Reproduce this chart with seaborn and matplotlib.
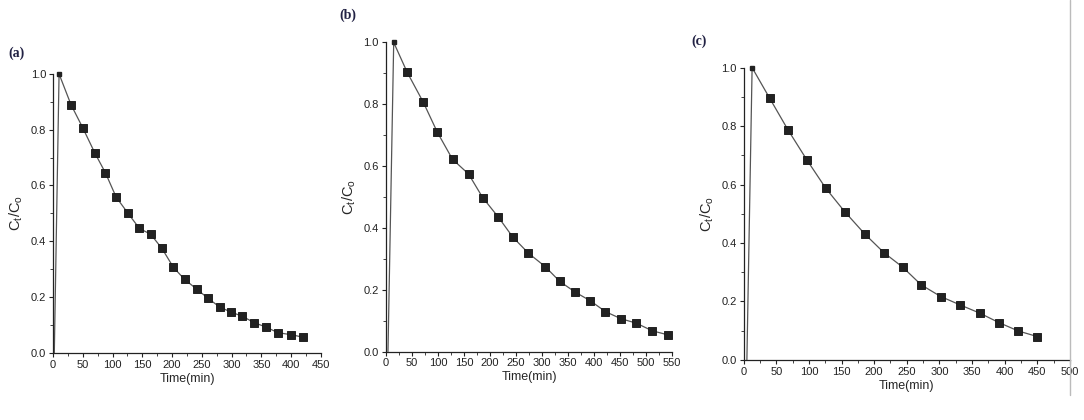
import numpy as np
import pandas as pd
import seaborn as sns
import matplotlib.pyplot as plt
from matplotlib.ticker import MultipleLocator
from matplotlib.lines import Line2D

# values (first point = start of the run at C/Co = 0)
time_a = [2, 10, 30, 50, 70, 88, 106, 126, 145, 164, 183, 202, 221, 241, 260, 280, 299, 318, 338, 357, 378, 400, 420]
ratio_a = [0.0, 1.0, 0.89, 0.806, 0.717, 0.645, 0.558, 0.50, 0.446, 0.425, 0.374, 0.307, 0.263, 0.229, 0.196,
           0.164, 0.146, 0.131, 0.108, 0.093, 0.072, 0.065, 0.056]

time_b = [4, 15, 41, 72, 99, 128, 159, 186, 216, 244, 274, 306, 334, 364, 393, 422, 452, 481, 512, 542]
ratio_b = [0.0, 1.0, 0.903, 0.806, 0.709, 0.622, 0.574, 0.498, 0.435, 0.37, 0.318, 0.275, 0.227, 0.192,
           0.164, 0.129, 0.106, 0.092, 0.067, 0.054]

time_c = [5, 13, 40, 68, 97, 126, 155, 186, 215, 244, 272, 302, 332, 362, 391, 421, 450]
ratio_c = [0.0, 1.0, 0.895, 0.787, 0.684, 0.587, 0.507, 0.43, 0.367, 0.317, 0.257, 0.217, 0.188, 0.16,
           0.128, 0.099, 0.08]

panels = [
    ("(a)", time_a, ratio_a, 450, [0.049, 0.160, 0.247, 0.664], (0.008, 0.865)),
    ("(b)", time_b, ratio_b, 550, [0.356, 0.163, 0.264, 0.736], (0.313, 0.955)),
    ("(c)", time_c, ratio_c, 500, [0.686, 0.143, 0.301, 0.696], (0.638, 0.893)),
]

sns.set_theme(style="ticks")
plt.rcParams['font.family'] = ['Liberation Sans', 'DejaVu Sans']

fig = plt.figure(figsize=(10.84, 4.2), dpi=100)

for label, t, r, xmax, rect, lab_pos in panels:
    ax = fig.add_axes(rect)
    df = pd.DataFrame({"t": t, "r": r})
    sns.lineplot(data=df, x="t", y="r", ax=ax, color="#555555", linewidth=0.9,
                 estimator=None, sort=False)
    # square markers on the measured points (skip the start point)
    sns.scatterplot(data=df.iloc[2:], x="t", y="r", ax=ax, marker="s", s=36,
                    color="#222222", edgecolor="#111111", linewidth=0.6, clip_on=False, zorder=3)
    ax.plot(df["t"].iloc[1], df["r"].iloc[1], "s", ms=2.5, color="#222222", clip_on=False)

    ax.set_xlim(0, xmax)
    ax.set_ylim(0, 1.0)
    ax.xaxis.set_major_locator(MultipleLocator(50))
    ax.xaxis.set_minor_locator(MultipleLocator(25))
    ax.yaxis.set_major_locator(MultipleLocator(0.2))
    ax.yaxis.set_minor_locator(MultipleLocator(0.1))
    ax.yaxis.set_major_formatter(plt.FormatStrFormatter("%.1f"))
    ax.tick_params(axis="both", which="major", labelsize=8, length=3, width=0.8, pad=2, colors="#222222")
    ax.tick_params(axis="both", which="minor", length=2, width=0.6, colors="#222222")
    for side in ("top", "right"):
        ax.spines[side].set_visible(False)
    for side in ("left", "bottom"):
        ax.spines[side].set_linewidth(0.9)
        ax.spines[side].set_color("#222222")
    ax.set_xlabel("Time(min)", fontsize=9, labelpad=2)
    ax.set_ylabel(r"C$_\mathregular{t}$/C$_\mathregular{o}$", fontsize=10.5, labelpad=4)
    fig.text(lab_pos[0], lab_pos[1], label, fontsize=10, fontweight="bold",
             family=["Liberation Serif", "DejaVu Serif"], color="#222244")

# faint vertical scan edge on the right
fig.add_artist(Line2D([0.987, 0.987], [0.06, 1.0], color="#bbbbbb", linewidth=1.0))

fig.savefig("out.png", dpi=100, facecolor="white")
